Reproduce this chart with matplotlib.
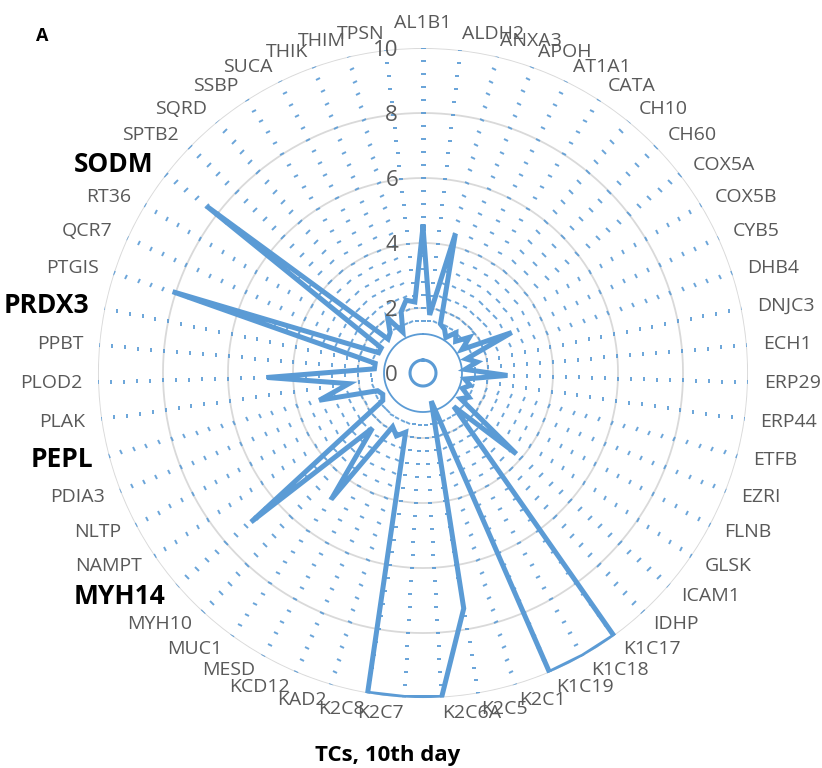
import numpy as np
import matplotlib.pyplot as plt
from matplotlib.markers import MarkerStyle
from matplotlib.transforms import Affine2D

plt.rcParams['font.family'] = ['Open Sans', 'DejaVu Sans']

categories = [
    'AL1B1', 'ALDH2', 'ANXA3', 'APOH', 'AT1A1', 'CATA', 'CH10', 'CH60', 'COX5A', 'COX5B',
    'CYB5', 'DHB4', 'DNJC3', 'ECH1', 'ERP29', 'ERP44', 'ETFB', 'EZRI', 'FLNB', 'GLSK',
    'ICAM1', 'IDHP', 'K1C17', 'K1C18', 'K1C19', 'K2C1', 'K2C5', 'K2C6A', 'K2C7', 'K2C8',
    'KAD2', 'KCD12', 'MESD', 'MUC1', 'MYH10', 'MYH14', 'NAMPT', 'NLTP', 'PDIA3', 'PEPL',
    'PLAK', 'PLOD2', 'PPBT', 'PRDX3', 'PTGIS', 'QCR7', 'RT36', 'SODM', 'SPTB2', 'SQRD',
    'SSBP', 'SUCA', 'THIK', 'THIM', 'TPSN',
]
values = [
    4.5, 1.8, 4.4, 1.6, 1.5, 1.3, 1.6, 1.4, 1.8, 1.4,
    3.0, 1.4, 1.7, 1.3, 2.6, 1.3, 1.5, 1.3, 1.6, 1.4,
    3.8, 1.4, 10.0, 10.0, 10.0, 0.9, 7.35, 10.0, 10.0, 10.0,
    1.9, 2.1, 1.9, 4.8, 2.3, 7.0, 1.5, 1.4, 1.5, 3.3,
    2.3, 4.8, 1.5, 1.5, 8.1, 1.5, 1.5, 8.4, 1.5, 1.6,
    2.0, 1.4, 2.0, 2.3, 2.2,
]
bold_labels = ['SODM', 'PRDX3', 'PEPL', 'MYH14']
ring_ticks = [0, 2, 4, 6, 8, 10]
inner_rings = [0.4, 1.2]
dash_rings = [1.6, 2.0, 2.4, 2.8, 3.2, 3.6, 4.0, 4.4, 4.8, 5.2, 5.6,
              6.0, 6.4, 6.8, 7.2, 7.6, 8.0, 8.4, 8.8, 9.2, 9.6, 10.0]

blue = '#5b9bd5'
grey = '#595959'

n = len(categories)
angles = np.arange(n) * 2 * np.pi / n

fig = plt.figure(figsize=(8.22, 7.68), dpi=100)
ax = fig.add_axes([0.1192, 0.0911, 0.7908, 0.8464], projection='polar')
ax.set_theta_zero_location('N')
ax.set_theta_direction(-1)
ax.set_ylim(0, 10)
ax.grid(False)
ax.set_xticks([])
ax.set_yticks([])
ax.spines['polar'].set_visible(False)

circle = np.linspace(0, 2 * np.pi, 361)
for r in ring_ticks[1:]:
    ax.plot(circle, np.full_like(circle, r), color='#d9d9d9', lw=1.3, zorder=1)
for r, lw in zip(inner_rings, [2.2, 1.3]):
    ax.plot(circle, np.full_like(circle, r), color=blue, lw=lw, zorder=2)

# short tangential dashes on every spoke
for a in angles:
    m = MarkerStyle('_', transform=Affine2D().rotate_deg(-np.degrees(a)))
    ax.plot(np.full(len(dash_rings), a), dash_rings, ls='none', marker=m,
            markersize=3.6, markeredgewidth=1.4, color=blue, alpha=0.9, zorder=2)

ax.plot(np.append(angles, angles[0]), values + values[:1], color=blue, lw=3.6,
        solid_joinstyle='miter', zorder=3)

for r in ring_ticks:
    ax.annotate(str(r), xy=(0, r), xytext=(-25, -2), textcoords='offset pixels',
                ha='right', va='center', fontsize=16, color=grey, zorder=4)

pad = 16
for a, name in zip(angles, categories):
    s, c = np.sin(a), np.cos(a)
    if abs(s) < 0.01:
        ha, va = 'center', ('bottom' if c > 0 else 'top')
    else:
        ha, va = ('left' if s > 0 else 'right'), 'center'
    if name in bold_labels:
        style = dict(fontsize=19, fontweight='bold', color='black')
    else:
        style = dict(fontsize=14, color=grey)
    ax.annotate(name, xy=(a, 10), xytext=(pad * s, pad * c), textcoords='offset pixels',
                ha=ha, va=va, annotation_clip=False, **style)

fig.text(42 / 822, 1 - 36 / 768, 'A', fontsize=13, fontweight='bold', ha='center', va='center')
fig.text(388 / 822, 1 - 755 / 768, 'TCs, 10th day', fontsize=16, fontweight='bold',
         ha='center', va='center')

fig.savefig('out.png', dpi=100)
